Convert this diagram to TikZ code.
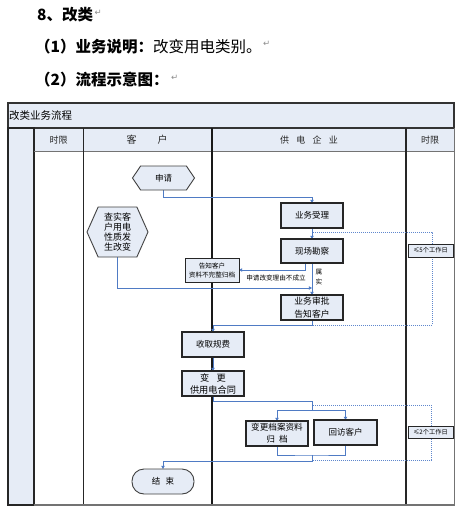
\documentclass[tikz,border=0pt]{standalone}
\usepackage{fontspec}
\setmainfont{Noto Sans CJK SC}
\newfontfamily\symf{DejaVu Sans}
\usetikzlibrary{arrows.meta,shapes.symbols,shapes.misc,calc}
\definecolor{cellblue}{RGB}{230,236,246}
\definecolor{lineblue}{RGB}{79,123,196}
\definecolor{dotblue}{RGB}{95,135,205}
\tikzset{
  box/.style={draw=black!85,line width=1.1pt,fill=cellblue,inner sep=1pt,align=center,
    font=\fontsize{8.5}{12}\selectfont,minimum width=62pt,minimum height=25pt},
  smallbox/.style={box,line width=0.9pt,font=\fontsize{6.6}{9}\selectfont},
  tbox/.style={draw=black!85,line width=0.9pt,fill=cellblue,inner sep=0.5pt,
    font=\fontsize{6.2}{7}\selectfont,minimum width=45pt,minimum height=13pt},
  hexa/.style={draw=black!75,line width=0.9pt,fill=cellblue,shape=signal,
    signal to=west and east,inner sep=0pt,align=center},
  conn/.style={draw=lineblue,line width=0.9pt},
  arr/.style={conn,-{Triangle[length=3.2pt,width=3.4pt]}},
  dots/.style={draw=dotblue,line width=0.9pt,dash pattern=on 1pt off 1pt},
  head/.style={font=\fontsize{9}{10}\selectfont,text=black!85},
  parmark/.style={font=\symf\fontsize{8.5}{9}\selectfont,text=black!45,inner sep=0pt},
  hline/.style={font=\fontsize{15.5}{17}\selectfont,anchor=west,inner sep=0pt}
}
\begin{document}
\begin{tikzpicture}[x=1pt,y=-1pt]
\useasboundingbox (0,0) rectangle (458,512);
% headings
\node[hline] (h1) at (37,15) {\bfseries 8、改类};
\node[parmark,anchor=west] (m1) at ([xshift=1,yshift=2]h1.east) {↵};
\node[hline] (h2) at (35,47) {{\bfseries （1）业务说明：}改变用电类别。};
\node[parmark,anchor=west] (m2) at ([xshift=1,yshift=3]h2.east) {↵};
\node[hline] (h3) at (35,80) {\bfseries （2）流程示意图：};
\node[parmark,anchor=west] (m3) at ([xshift=2,yshift=2]h3.east) {↵};
% table
\fill[cellblue] (8,103) rectangle (454,128);
\fill[cellblue] (34,128) rectangle (454,151);
\fill[cellblue] (8,128) rectangle (34,505);
\draw[black!80,line width=1.2pt] (8,103) rectangle (454,128);
\node[anchor=west,inner sep=0pt,font=\fontsize{10.5}{12}\selectfont] (title) at (9,115.5) {改类业务流程};
\draw[black!85,line width=1.6pt] (8,128) rectangle (34,505);
\draw[black!55,line width=0.8pt] (34,151) -- (454,151);
\draw[black!85,line width=0.8pt] (83,128) -- (83,505);
\draw[black!90,line width=1.1pt] (212,128) -- (212,505);
\draw[black!85,line width=1.6pt] (406,128) -- (406,505);
\draw[black!55,line width=0.9pt] (454,128) -- (454,505);
\draw[black!55,line width=1.6pt] (34,505) -- (455,505);
\node[head] (c1) at (58.5,140) {时限};
\node[head,font=\fontsize{10}{11}\selectfont] (c2) at (147,140) {客\hspace{2.1em}户};
\node[head] (c3) at (309,140) {供\hspace{0.8em}电\hspace{0.8em}企\hspace{0.8em}业};
\node[head] (c4) at (430,140) {时限};
% coordinates for connectors
\coordinate (j1) at (312,288);
\coordinate (sp1) at (312,410);
\coordinate (mg) at (312,455);
% connectors
\draw[arr] (163.5,190) -- (163.5,197) -| (312,203);
\draw[arr] (312,228) -- (312,239);
\draw[arr] (305,263) |- (239,270);
\draw[arr] (312,263) -- (312,295);
\draw[arr] (117.5,257) |- (j1);
\draw[arr] (312,320) -- (312,325) -| (213,332);
\draw[arr] (213,357) -- (213,371);
\draw[conn] (213,396) -- (213,401) -| (sp1);
\draw[arr] (sp1) -| (277,421);
\draw[arr] (sp1) -| (345.5,420);
\draw[conn] (277,446) |- (mg) -| (345.5,445);
\draw[arr] (mg) -- (312,461) -| (163,469);
% dotted time spans
\draw[dots] (313,232) -- (432,232) -- (432,325) -- (313,325);
\draw[dots] (313,405) -- (431,405) -- (431,460) -- (313,460);
% nodes
\node[hexa,minimum width=62pt,minimum height=24pt,signal pointer angle=112,
  font=\fontsize{8.5}{10}\selectfont] (sq) at (163.5,178) {申请};
\node[hexa,minimum width=61pt,minimum height=50pt,signal pointer angle=132,
  font=\fontsize{9}{10.2}\selectfont] (cs) at (117.5,232) {查实客\\户用电\\性质发\\生改变};
\node[box] (sl) at (312,215.5) {业务受理};
\node[box,minimum height=24pt] (kc) at (312,251) {现场勘察};
\node[smallbox,minimum width=54pt,minimum height=24pt,font=\fontsize{6.6}{9}\selectfont] (gz) at (212,270) {告知客户\\资料不完整归档};
\node[box,font=\fontsize{8.8}{13}\selectfont] (sp) at (312,307.5) {业务审批\\告知客户};
\node[box] (sf) at (213,344.5) {收取规费};
\node[box,font=\fontsize{9.2}{12}\selectfont] (bg) at (213,383.5) {变\hspace{0.8em}更\\供用电合同};
\node[box,font=\fontsize{8.6}{12}\selectfont] (da) at (277,433.5) {变更档案资料\\归\hspace{0.5em}档};
\node[box,minimum width=63pt] (hf) at (345.5,432.5) {回访客户};
\node[box,rounded corners=12pt,draw=black!75,line width=0.9pt] (js) at (163,481.5) {结\hspace{0.6em}束};
\node[tbox] (t5) at (430.5,250.5) {≤5个工作日};
\node[tbox,minimum height=12pt] (t2) at (430.5,432.5) {≤2个工作日};
% labels
\node[inner sep=0pt,font=\fontsize{6.6}{8}\selectfont] (lb1) at (276,277.5) {申请改变理由不成立};
\node[inner sep=0pt,align=center,font=\fontsize{6.6}{9.5}\selectfont] (lb2) at (319,277) {属\\实};
\end{tikzpicture}
\end{document}
